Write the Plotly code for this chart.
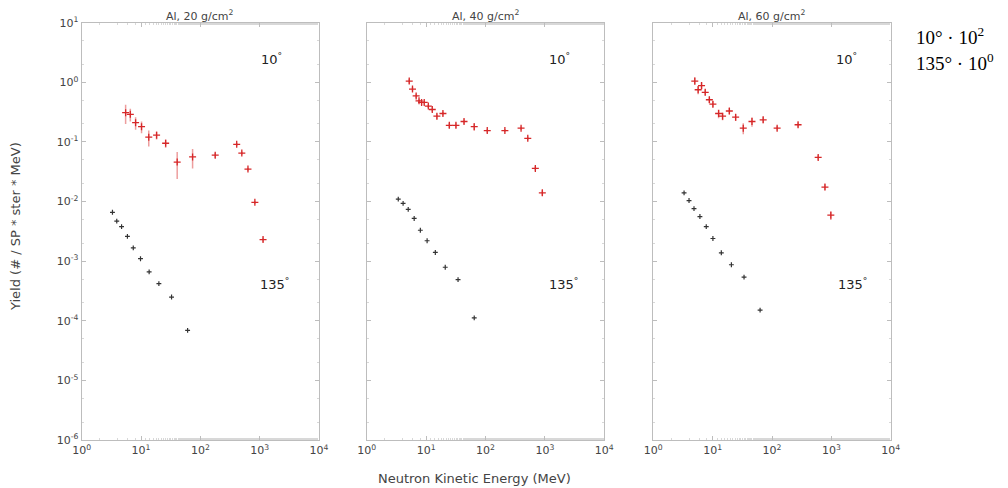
import math
import plotly.graph_objects as go

# ---------------- data (as plotted; 10 deg scaled by 10^2, 135 deg by 10^0) ----------------
titles = ["Al, 20 g/cm<sup>2</sup>", "Al, 40 g/cm<sup>2</sup>", "Al, 60 g/cm<sup>2</sup>"]

e10_p1 = [5.5, 6.6, 8.1, 10.2, 13.5, 18.3, 26, 40.7, 74, 178, 410, 500, 635, 830, 1140]
y10_p1 = [0.31, 0.29, 0.21, 0.18, 0.12, 0.13, 0.095, 0.046, 0.056, 0.060, 0.091, 0.065, 0.035, 0.0097, 0.0023]
err10_p1 = [0.11, 0.07, 0.05, 0.04, 0.036, 0.02, 0.015, 0.022, 0.02, 0.006, 0.006, 0.004, 0.002, 0.0006, 0.0002]

e135_p1 = [3.3, 3.9, 4.7, 5.9, 7.4, 9.8, 13.7, 20, 32.7, 61]
y135_p1 = [0.0066, 0.0047, 0.0038, 0.0026, 0.00167, 0.0011, 0.00066, 0.00042, 0.00025, 0.000069]

e10_p2 = [5.2, 5.9, 6.8, 7.6, 8.4, 9.3, 10.9, 12.7, 15.2, 19.2, 24.6, 31.8, 43.5, 64.6, 107, 212, 397, 515, 690, 905]
y10_p2 = [1.05, 0.77, 0.59, 0.49, 0.46, 0.46, 0.40, 0.35, 0.27, 0.30, 0.19, 0.19, 0.22, 0.18, 0.155, 0.155, 0.17, 0.115, 0.036, 0.014]
err10_p2 = [0.10, 0.07, 0.05, 0.04, 0.04, 0.04, 0.03, 0.03, 0.03, 0.025, 0.02, 0.02, 0.02, 0.025, 0.012, 0.01, 0.012, 0.008, 0.003, 0.0015]

e135_p2 = [3.4, 4.1, 5.0, 6.3, 8.0, 10.4, 14.3, 21, 34.5, 64.6]
y135_p2 = [0.011, 0.0093, 0.0074, 0.0052, 0.0033, 0.0022, 0.0014, 0.00079, 0.00049, 0.000112]

e10_p3 = [5.0, 5.7, 6.5, 7.5, 8.8, 10.1, 12.6, 14.7, 19.1, 24.4, 32.8, 46, 71, 122, 275, 600, 780, 980]
y10_p3 = [1.05, 0.75, 0.88, 0.68, 0.51, 0.43, 0.30, 0.27, 0.33, 0.26, 0.17, 0.22, 0.235, 0.17, 0.194, 0.055, 0.0175, 0.0059]
err10_p3 = [0.15, 0.12, 0.12, 0.08, 0.06, 0.05, 0.05, 0.04, 0.04, 0.035, 0.035, 0.04, 0.03, 0.015, 0.02, 0.005, 0.002, 0.001]

e135_p3 = [3.3, 4.0, 4.85, 6.1, 7.8, 10.1, 14, 20.7, 33.8, 63]
y135_p3 = [0.014, 0.0104, 0.0076, 0.0056, 0.0038, 0.0024, 0.00138, 0.00087, 0.00054, 0.000151]

label_10_x = [1580, 1740, 1820]
label_135_x = [1780, 2040, 2290]
label_10_y = 2.45
label_135_y = 0.00042

x_tickvals = [1, 10, 100, 1000, 10000]
x_ticktext = ["10<sup>0</sup>", "10<sup>1</sup>", "10<sup>2</sup>", "10<sup>3</sup>", "10<sup>4</sup>"]
y_tickvals = [1e1, 1e0, 1e-1, 1e-2, 1e-3, 1e-4, 1e-5, 1e-6]
y_ticktext = ["10<sup>1</sup>", "10<sup>0</sup>", "10<sup>-1</sup>", "10<sup>-2</sup>",
              "10<sup>-3</sup>", "10<sup>-4</sup>", "10<sup>-5</sup>", "10<sup>-6</sup>"]

panels = [
    (e10_p1, y10_p1, err10_p1, e135_p1, y135_p1),
    (e10_p2, y10_p2, err10_p2, e135_p2, y135_p2),
    (e10_p3, y10_p3, err10_p3, e135_p3, y135_p3),
]

W, H = 1008, 488
OFF = 8.0  # page body margin in the browser
def px(v):
    return (v - OFF) / W
def py(v):
    return (H - (v - OFF)) / H

x_domains_px = [(81.7, 319.0), (366.7, 604.3), (653.3, 890.7)]
y_domain = [py(440.0), py(22.7)]

RED = "#d62728"
ERR = "rgba(214,39,40,0.45)"
FRAME = "#bdbdbd"
TXT = "#444444"

fig = go.Figure()

for i, (ex, ey, eerr, bx, by) in enumerate(panels):
    n = "" if i == 0 else str(i + 1)
    xa, ya = "x" + n, "y" + n
    fig.add_trace(go.Scatter(
        x=ex, y=ey, mode="markers", xaxis=xa, yaxis=ya, showlegend=False,
        marker=dict(symbol="cross-thin", size=5, line=dict(width=1.3, color=RED), color=RED),
        error_y=dict(type="data", array=eerr, color=ERR, thickness=1.5, width=0),
    ))
    fig.add_trace(go.Scatter(
        x=bx, y=by, mode="markers", xaxis=xa, yaxis=ya, showlegend=False,
        marker=dict(symbol="cross-thin", size=3.5, line=dict(width=1.2, color="#333333"), color="#333333"),
    ))

    d0, d1 = x_domains_px[i]
    axis_common = dict(
        type="log", showgrid=False, zeroline=False, showline=True, linecolor=FRAME, linewidth=1.2,
        mirror="ticks", ticks="inside", ticklen=4, tickcolor=FRAME, automargin=False,
        minor=dict(ticks="inside", ticklen=2, tickcolor="#d8d8d8"),
        tickfont=dict(family="DejaVu Sans", size=11, color=TXT),
    )
    fig.layout["xaxis" + n] = dict(
        axis_common, domain=[px(d0), px(d1)], range=[0, 4],
        tickvals=x_tickvals, ticktext=x_ticktext, anchor=ya,
    )
    yax = dict(axis_common, domain=y_domain, range=[-6, 1], tickvals=y_tickvals,
               showticklabels=(i == 0), anchor=xa)
    if i == 0:
        yax["ticktext"] = y_ticktext
    fig.layout["yaxis" + n] = yax

    fig.add_annotation(text=titles[i], xref="paper", yref="paper",
                       x=px((d0 + d1) / 2), y=py(15), showarrow=False,
                       xanchor="center", yanchor="middle",
                       font=dict(family="DejaVu Sans", size=11, color=TXT))
    fig.add_annotation(text="10<sup>°</sup>", xref=xa, yref=ya,
                       x=math.log10(label_10_x[i]), y=math.log10(label_10_y),
                       showarrow=False, font=dict(family="DejaVu Sans", size=13, color="#222222"))
    fig.add_annotation(text="135<sup>°</sup>", xref=xa, yref=ya,
                       x=math.log10(label_135_x[i]), y=math.log10(label_135_y),
                       showarrow=False, font=dict(family="DejaVu Sans", size=13, color="#222222"))

fig.add_annotation(text="Neutron Kinetic Energy (MeV)", xref="paper", yref="paper",
                   x=px(474), y=py(478), showarrow=False, xanchor="center", yanchor="middle",
                   font=dict(family="DejaVu Sans", size=13, color=TXT))
fig.add_annotation(text="Yield (# / SP * ster * MeV)", xref="paper", yref="paper",
                   x=px(15), y=py(227), showarrow=False, textangle=-90,
                   xanchor="center", yanchor="middle",
                   font=dict(family="DejaVu Sans", size=13, color=TXT))
fig.add_annotation(text="10° · 10<sup>2</sup>", xref="paper", yref="paper",
                   x=px(914), y=py(36), showarrow=False, xanchor="left", yanchor="middle",
                   font=dict(family="Liberation Serif", size=19, color="#000000"))
fig.add_annotation(text="135° · 10<sup>0</sup>", xref="paper", yref="paper",
                   x=px(914), y=py(62), showarrow=False, xanchor="left", yanchor="middle",
                   font=dict(family="Liberation Serif", size=19, color="#000000"))

fig.update_layout(width=W, height=H, margin=dict(l=0, r=0, t=0, b=0),
                  paper_bgcolor="white", plot_bgcolor="white")

fig.write_html("out.html")
